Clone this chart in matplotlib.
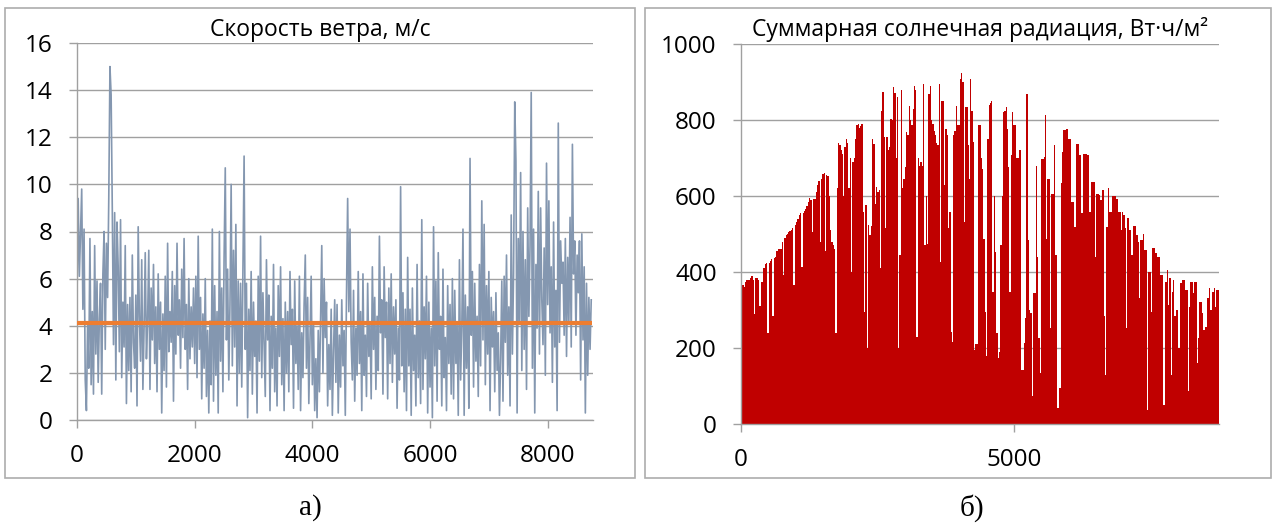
#!/usr/bin/env python3
# =============================================================================
# plot.py
# Wind speed (hourly, m/s) and total solar radiation (Wh/m2) over one year.
# Two Excel-style panels side by side, captions a) / b) under them.
# =============================================================================

import numpy as np
import matplotlib
matplotlib.use("Agg")
import matplotlib.pyplot as plt
from matplotlib.patches import Rectangle

plt.rcParams["font.family"] = ["Open Sans", "DejaVu Sans"]

# ── data ─────────────────────────────────────────────────────────────────────
WIND_STEP_H = 20          # one value per 20 hours
WIND_SPEED = [
    5.2, 9.4, 6.1, 8.0, 9.8, 4.7, 8.1, 1.7, 0.4, 4.0, 2.2, 7.7, 1.5, 4.6, 1.1, 7.4, 2.8, 5.9, 1.6, 4.3,
    5.8, 1.1, 6.2, 8.0, 3.0, 7.5, 5.2, 9.4, 15.0, 13.8, 8.9, 3.2, 8.8, 1.7, 8.4, 6.5, 2.9, 8.5, 1.8, 5.0,
    3.1, 7.4, 0.7, 4.9, 2.1, 5.2, 1.2, 7.0, 3.3, 2.2, 5.3, 0.6, 8.2, 4.4, 2.5, 6.8, 1.3, 3.9, 7.1, 2.6,
    4.2, 7.2, 1.3, 5.6, 3.4, 6.6, 2.4, 4.8, 1.2, 6.2, 3.0, 5.0, 0.3, 4.5, 2.1, 6.1, 1.4, 7.5, 2.9, 4.6,
    3.3, 6.3, 0.8, 5.7, 2.8, 7.5, 3.6, 5.1, 2.2, 6.4, 3.5, 7.7, 3.0, 4.9, 1.3, 6.0, 2.6, 4.8, 3.1, 5.6,
    2.4, 6.1, 1.8, 7.8, 3.0, 5.2, 0.9, 4.5, 2.2, 6.0, 1.0, 3.8, 0.3, 4.2, 1.5, 8.1, 0.8, 5.7, 1.9, 4.6,
    0.3, 8.0, 2.5, 5.6, 1.2, 6.9, 10.7, 3.4, 6.4, 1.7, 4.9, 10.0, 2.3, 7.2, 3.1, 8.3, 0.6, 5.9, 2.0, 5.8,
    1.4, 6.2, 11.2, 3.0, 5.8, 0.1, 4.7, 2.1, 6.3, 1.1, 5.0, 2.7, 4.2, 0.3, 6.1, 2.5, 7.8, 1.8, 5.4, 3.2,
    1.0, 6.8, 3.4, 5.3, 0.4, 4.4, 2.2, 6.6, 1.2, 3.9, 0.6, 5.7, 2.7, 6.5, 1.5, 4.3, 0.4, 5.0, 2.0, 4.6,
    1.2, 6.3, 3.2, 4.7, 0.5, 5.9, 2.4, 4.0, 1.3, 6.1, 0.4, 3.7, 1.8, 4.9, 7.0, 2.2, 5.2, 0.7, 3.5, 6.1,
    1.5, 4.1, 0.4, 2.6, 0.1, 3.8, 1.2, 4.3, 7.4, 2.0, 6.0, 3.5, 5.0, 0.6, 3.2, 1.3, 4.7, 0.2, 2.9, 5.1,
    1.6, 4.9, 0.3, 3.6, 1.4, 5.1, 2.3, 3.8, 0.2, 5.2, 9.4, 4.6, 8.1, 3.3, 1.7, 5.5, 0.8, 3.9, 1.9, 6.3,
    2.4, 4.6, 0.4, 6.2, 1.9, 3.6, 1.0, 5.8, 2.7, 4.1, 0.9, 6.5, 3.0, 5.2, 1.3, 4.4, 2.1, 7.8, 3.7, 5.1,
    1.1, 6.5, 3.5, 5.0, 0.9, 5.6, 2.4, 6.2, 1.6, 4.8, 2.8, 5.1, 0.5, 3.9, 1.7, 9.9, 2.3, 5.4, 1.2, 4.7,
    0.4, 6.9, 2.3, 4.7, 0.2, 5.6, 2.1, 3.6, 0.6, 6.6, 1.8, 4.2, 0.7, 8.5, 1.3, 4.8, 2.6, 6.1, 0.3, 5.0,
    1.4, 3.9, 0.1, 8.2, 2.3, 5.9, 0.8, 7.1, 3.0, 4.4, 0.6, 6.4, 1.8, 3.5, 0.4, 5.7, 2.4, 4.9, 1.1, 6.0,
    0.9, 5.5, 2.4, 4.1, 0.2, 6.8, 1.7, 3.9, 8.1, 0.2, 5.3, 2.2, 4.8, 0.5, 11.1, 3.6, 6.3, 1.4, 5.8, 2.5,
    4.4, 1.0, 6.6, 2.3, 9.3, 3.4, 8.3, 1.5, 5.7, 2.8, 6.3, 0.4, 5.2, 3.1, 4.6, 1.2, 5.4, 2.1, 3.7, 0.2,
    2.6, 5.9, 0.8, 6.1, 3.3, 7.0, 1.9, 4.8, 0.6, 8.7, 2.8, 6.2, 13.5, 11.0, 0.3, 7.7, 4.2, 10.5, 2.1, 8.0,
    3.0, 6.8, 1.3, 9.0, 4.4, 7.4, 13.9, 2.2, 8.1, 0.3, 6.6, 3.9, 9.7, 2.8, 9.0, 5.1, 3.2, 7.3, 1.9, 10.9,
    4.9, 9.3, 3.7, 6.5, 1.6, 8.4, 3.1, 5.5, 0.4, 12.6, 3.3, 7.6, 5.8, 6.7, 3.6, 7.7, 2.7, 6.9, 4.2, 8.6,
    3.1, 11.7, 6.2, 7.6, 3.6, 7.0, 5.4, 7.6, 1.7, 7.9, 3.4, 6.5, 0.3, 5.8, 1.9, 5.2, 3.0, 5.1,
]
WIND_MEAN = 4.1           # orange line
WIND_YTICKS = [0, 2, 4, 6, 8, 10, 12, 14, 16]
WIND_XTICKS = [0, 2000, 4000, 6000, 8000]

SUN_STEP_H = 24           # one value per day (daily peak of the hourly series)
SUN_RADIATION = [
    370, 365, 360, 375, 380, 380, 380, 385, 390, 380, 290, 383, 383, 380, 310, 375, 375, 410, 420, 425,
    240, 425, 430, 435, 285, 438, 440, 455, 460, 460, 460, 480, 392, 490, 497, 500, 505, 508, 510, 515,
    366, 525, 532, 540, 551, 555, 414, 556, 560, 565, 575, 585, 596, 590, 506, 592, 593, 610, 630, 640,
    480, 645, 659, 660, 455, 655, 652, 600, 510, 480, 470, 460, 239, 620, 740, 735, 720, 710, 600, 730,
    750, 740, 620, 700, 400, 690, 700, 750, 786, 790, 780, 785, 790, 558, 296, 576, 200, 523, 497, 520,
    750, 738, 580, 624, 611, 615, 410, 825, 873, 755, 515, 755, 720, 730, 803, 800, 886, 870, 700, 860,
    200, 445, 878, 620, 646, 676, 768, 760, 838, 800, 786, 830, 890, 880, 230, 700, 680, 690, 680, 895,
    470, 600, 475, 869, 890, 800, 790, 770, 760, 740, 733, 895, 427, 851, 851, 628, 777, 760, 515, 558,
    243, 217, 760, 770, 838, 786, 786, 908, 925, 900, 532, 834, 834, 733, 646, 908, 825, 742, 195, 210,
    210, 786, 786, 700, 672, 488, 296, 178, 750, 840, 845, 850, 348, 600, 453, 239, 173, 190, 470, 600,
    820, 825, 833, 777, 676, 348, 707, 820, 786, 786, 700, 700, 720, 720, 142, 142, 212, 278, 869, 484,
    300, 291, 73, 344, 344, 680, 440, 226, 134, 698, 698, 703, 812, 488, 646, 646, 252, 606, 606, 733,
    445, 42, 42, 95, 633, 716, 773, 773, 777, 777, 750, 750, 585, 585, 519, 519, 738, 738, 707, 707,
    554, 711, 711, 711, 707, 707, 558, 637, 637, 637, 440, 606, 606, 602, 590, 590, 615, 283, 130, 519,
    620, 558, 558, 600, 600, 600, 593, 593, 558, 558, 510, 558, 550, 515, 252, 541, 510, 510, 445, 520,
    520, 520, 497, 480, 331, 484, 484, 501, 458, 458, 38, 401, 401, 296, 462, 462, 449, 449, 440, 440,
    392, 392, 50, 50, 375, 405, 313, 383, 130, 348, 379, 283, 300, 300, 200, 370, 370, 379, 379, 353,
    353, 86, 309, 375, 375, 344, 373, 373, 160, 226, 322, 322, 291, 248, 256, 256, 331, 357, 300, 300,
    348, 357, 309, 353, 353, 326,
]
SUN_YTICKS = [0, 200, 400, 600, 800, 1000]
SUN_XTICKS = [0, 5000]

HOURS_IN_YEAR = 8760

TITLE_WIND = "Скорость ветра, м/с"
TITLE_SUN = "Суммарная солнечная радиация, Вт·ч/м²"
CAPTIONS = ["а)", "б)"]

# ── style ────────────────────────────────────────────────────────────────────
W, H = 1274, 525
DPI = 100
GRID_C = "#A0A0A0"
BOX_C = "#ADADAD"
WIND_C = "#8497B0"
MEAN_C = "#ED7D31"
SUN_C = "#C00000"


def px_rect(x0, y0, x1, y1):
    """pixel box (top-left origin) -> figure [l, b, w, h]."""
    return [x0 / W, 1 - y1 / H, (x1 - x0) / W, (y1 - y0) / H]


def style_axis(ax, yticks, xticks):
    for s in ("top", "right"):
        ax.spines[s].set_visible(False)
    for s in ("left", "bottom"):
        ax.spines[s].set_color(GRID_C)
        ax.spines[s].set_linewidth(1.0)
    ax.set_yticks(yticks)
    ax.set_xticks(xticks)
    ax.yaxis.grid(True, color=GRID_C, linewidth=1.0)
    ax.set_axisbelow(True)
    ax.tick_params(axis="both", colors=GRID_C, labelcolor="black",
                   labelsize=17.5, length=5.5, width=1.0, direction="out")
    ax.tick_params(axis="y", pad=12)
    ax.tick_params(axis="x", pad=12)


def plot_wind(fig):
    ax = fig.add_axes(px_rect(77, 43, 593, 420))
    hours = np.arange(len(WIND_SPEED)) * WIND_STEP_H
    ax.plot(hours, WIND_SPEED, color=WIND_C, linewidth=1.2, zorder=2)
    ax.plot([0, HOURS_IN_YEAR], [WIND_MEAN, WIND_MEAN],
            color=MEAN_C, linewidth=3.0, zorder=3, solid_capstyle="butt")
    ax.set_xlim(0, HOURS_IN_YEAR + 10)
    ax.set_ylim(0, 16)
    style_axis(ax, WIND_YTICKS, WIND_XTICKS)
    fig.text(320 / W, 1 - 30 / H, TITLE_WIND, ha="center", va="center",
             fontsize=16.5)
    return ax


def plot_sun(fig):
    ax = fig.add_axes(px_rect(741, 44, 1219, 424))
    days = np.arange(len(SUN_RADIATION)) * SUN_STEP_H
    ax.bar(days, SUN_RADIATION, width=SUN_STEP_H, align="edge",
           color=SUN_C, linewidth=0, zorder=2)
    ax.set_xlim(0, HOURS_IN_YEAR)
    ax.set_ylim(0, 1000)
    style_axis(ax, SUN_YTICKS, SUN_XTICKS)
    fig.text(980 / W, 1 - 30 / H, TITLE_SUN, ha="center", va="center",
             fontsize=16.5)
    return ax


def main():
    fig = plt.figure(figsize=(W / DPI, H / DPI), dpi=DPI, facecolor="white")

    # panel frames
    for x0, x1 in ((5, 635), (645, 1271)):
        l, b, w, h = px_rect(x0, 8, x1, 478)
        fig.patches.append(Rectangle((l, b), w, h, transform=fig.transFigure,
                                     fill=False, edgecolor=BOX_C,
                                     linewidth=1.2))

    plot_wind(fig)
    plot_sun(fig)

    for cx, txt in zip((310, 972), CAPTIONS):
        fig.text(cx / W, 1 - 508 / H, txt, ha="center", va="center",
                 fontsize=21, family=["Liberation Serif", "DejaVu Serif"])

    fig.savefig("out.png", dpi=DPI, facecolor="white")
    plt.close(fig)


if __name__ == "__main__":
    main()
